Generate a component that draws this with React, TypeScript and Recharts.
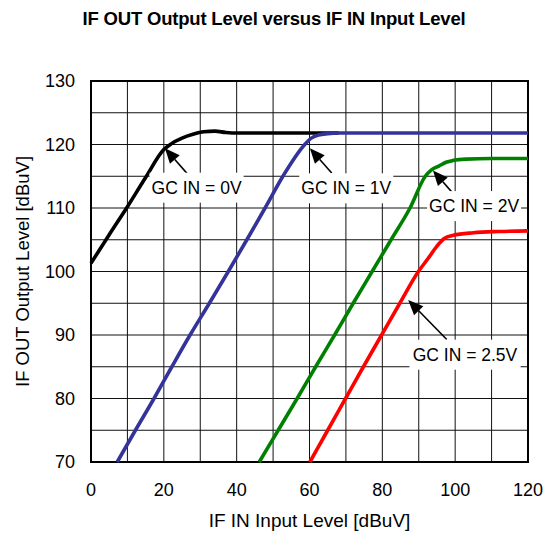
import { LineChart, Line, XAxis, YAxis, CartesianGrid, ReferenceArea, ReferenceDot, ReferenceLine, Label } from "recharts";

const FONT = "'Liberation Sans', Arial, sans-serif";

const xTicks = [0, 10, 20, 30, 40, 50, 60, 70, 80, 90, 100, 110, 120];
const yTicks = [70, 75, 80, 85, 90, 95, 100, 105, 110, 115, 120, 125, 130];

// GC IN = 0V
const gc0In = [0, 5, 10, 15, 20, 22, 25, 28, 31, 34, 37, 40, 50, 68];
const gc0Out = [101.3, 105.8, 110.2, 114.8, 119.2, 120.1, 121.0, 121.6, 122.0, 122.1, 121.9, 121.8, 121.8, 121.8];

// GC IN = 1V
const gc1In = [7.2, 12.2, 17.3, 22.2, 27.2, 32.5, 37.7, 42.8, 47.8, 52.7, 58.7, 60.5, 62.5, 65, 68, 80, 100, 120];
const gc1Out = [70, 75, 80, 85, 90, 95, 100, 105, 110, 115, 120, 121, 121.5, 121.7, 121.8, 121.8, 121.8, 121.8];

// GC IN = 2V
const gc2In = [46.2, 51.4, 56.6, 61.7, 66.9, 72, 77.2, 82.4, 87.6, 91.8, 93.5, 95.5, 97.5, 99.5, 103, 110, 120];
const gc2Out = [70, 75, 80, 85, 90, 95, 100, 105, 110, 115, 116, 116.6, 117.2, 117.5, 117.7, 117.8, 117.8];

// GC IN = 2.5V
const gc25In = [60.1, 65, 69.9, 74.8, 79.8, 84.8, 89.9, 92.5, 95, 97, 99.5, 105, 112, 120];
const gc25Out = [70, 75, 80, 85, 90, 95, 100, 102, 104, 105.2, 105.7, 106.1, 106.3, 106.4];

const seriesNames = ["GC IN = 0V", "GC IN = 1V", "GC IN = 2V", "GC IN = 2.5V"];
const seriesColors = ["#000000", "#333399", "#008000", "#ff0000"];

// annotation positions in data units
const noteX = [29, 70.1, 105.2, 102.7];
const noteY = [113.2, 113.1, 110.3, 86.9];
const arrowFromX = [27.2, 66.1, 99.4, 97.7];
const arrowFromY = [114.9, 115.5, 112.3, 89.3];
const arrowToX = [20.3, 60.1, 93.9, 87.1];
const arrowToY = [119.4, 119.4, 115.9, 95.5];

const toPoints = (xs: number[], ys: number[]) => xs.map((x, i) => ({ x, y: ys[i] }));
const series = [
  toPoints(gc0In, gc0Out),
  toPoints(gc1In, gc1Out),
  toPoints(gc2In, gc2Out),
  toPoints(gc25In, gc25Out),
];

const NoteBox = (text: string) => (props: any) => {
  const { cx, cy } = props;
  const w = text.length * 8.6 + 8;
  return (
    <g>
      <rect x={cx - w / 2} y={cy - 15} width={w} height={30} fill="#fff" />
      <text x={cx} y={cy} textAnchor="middle" dominantBaseline="central" fontFamily={FONT} fontSize={17.5} fill="#000">
        {text}
      </text>
    </g>
  );
};

const Arrow = (props: any) => {
  const { x1, y1, x2, y2 } = props;
  const ang = Math.atan2(y2 - y1, x2 - x1);
  const len = 15;
  const half = 6.5;
  const bx = x2 - len * Math.cos(ang);
  const by = y2 - len * Math.sin(ang);
  const px = -Math.sin(ang) * half;
  const py = Math.cos(ang) * half;
  return (
    <g>
      <line x1={x1} y1={y1} x2={bx} y2={by} stroke="#000" strokeWidth={1.6} />
      <polygon points={`${x2},${y2} ${bx + px},${by + py} ${bx - px},${by - py}`} fill="#000" />
    </g>
  );
};

const YTitle = (props: any) => {
  const { viewBox } = props;
  const cy = viewBox.y + viewBox.height / 2;
  const cx = 22;
  return (
    <text x={cx} y={cy} transform={`rotate(-90, ${cx}, ${cy})`} textAnchor="middle" dominantBaseline="central" fontFamily={FONT} fontSize={18.5} fill="#000">
      IF OUT Output Level [dBuV]
    </text>
  );
};

const XTitle = (props: any) => {
  const { viewBox } = props;
  const cx = viewBox.x + viewBox.width / 2;
  return (
    <text x={cx} y={527} textAnchor="middle" fontFamily={FONT} fontSize={19} fill="#000">
      IF IN Input Level [dBuV]
    </text>
  );
};

export default function App() {
  return (
    <div style={{ position: "absolute", left: 0, top: 0, width: 550, height: 536, background: "#fff" }}>
      <div
        style={{
          position: "absolute",
          left: 0,
          top: 8,
          width: 548,
          textAlign: "center",
          fontFamily: FONT,
          fontWeight: "bold",
          fontSize: 18.5,
          letterSpacing: -0.2,
        }}
      >
        IF OUT Output Level versus IF IN Input Level
      </div>
      <LineChart width={550} height={536} margin={{ top: 81, right: 22, bottom: 0, left: 0 }}>
        <CartesianGrid stroke="#111" strokeWidth={1} horizontalValues={yTicks} verticalValues={xTicks} />
        <XAxis
          type="number"
          dataKey="x"
          domain={[0, 120]}
          ticks={xTicks}
          tickFormatter={(v: number) => (v % 20 === 0 ? String(v) : "")}
          interval={0}
          axisLine={false}
          tickLine={false}
          tickSize={0}
          tickMargin={21}
          height={74}
          tick={{ fill: "#000", fontSize: 18, fontFamily: FONT }}
        >
          <Label content={<XTitle />} />
        </XAxis>
        <YAxis
          type="number"
          domain={[70, 130]}
          ticks={yTicks}
          tickFormatter={(v: number) => (v % 10 === 0 ? String(v) : "")}
          interval={0}
          axisLine={false}
          tickLine={false}
          tickSize={0}
          tickMargin={16}
          width={91}
          tick={{ fill: "#000", fontSize: 18, fontFamily: FONT }}
        >
          <Label content={<YTitle />} />
        </YAxis>
        <ReferenceArea x1={0} x2={120} y1={70} y2={130} fill="none" stroke="#000" strokeWidth={2} ifOverflow="visible" />
        {series.map((pts, i) => (
          <Line
            key={seriesNames[i]}
            data={pts}
            dataKey="y"
            name={seriesNames[i]}
            type="monotone"
            stroke={seriesColors[i]}
            strokeWidth={3.6}
            dot={false}
            activeDot={false}
            isAnimationActive={false}
          />
        ))}
        {seriesNames.map((name, i) => (
          <ReferenceDot key={"box" + name} x={noteX[i]} y={noteY[i]} r={1} shape={NoteBox(name)} ifOverflow="visible" />
        ))}
        {seriesNames.map((name, i) => (
          <ReferenceLine
            key={"arrow" + name}
            segment={[
              { x: arrowFromX[i], y: arrowFromY[i] },
              { x: arrowToX[i], y: arrowToY[i] },
            ]}
            shape={Arrow}
            ifOverflow="visible"
          />
        ))}
      </LineChart>
    </div>
  );
}
